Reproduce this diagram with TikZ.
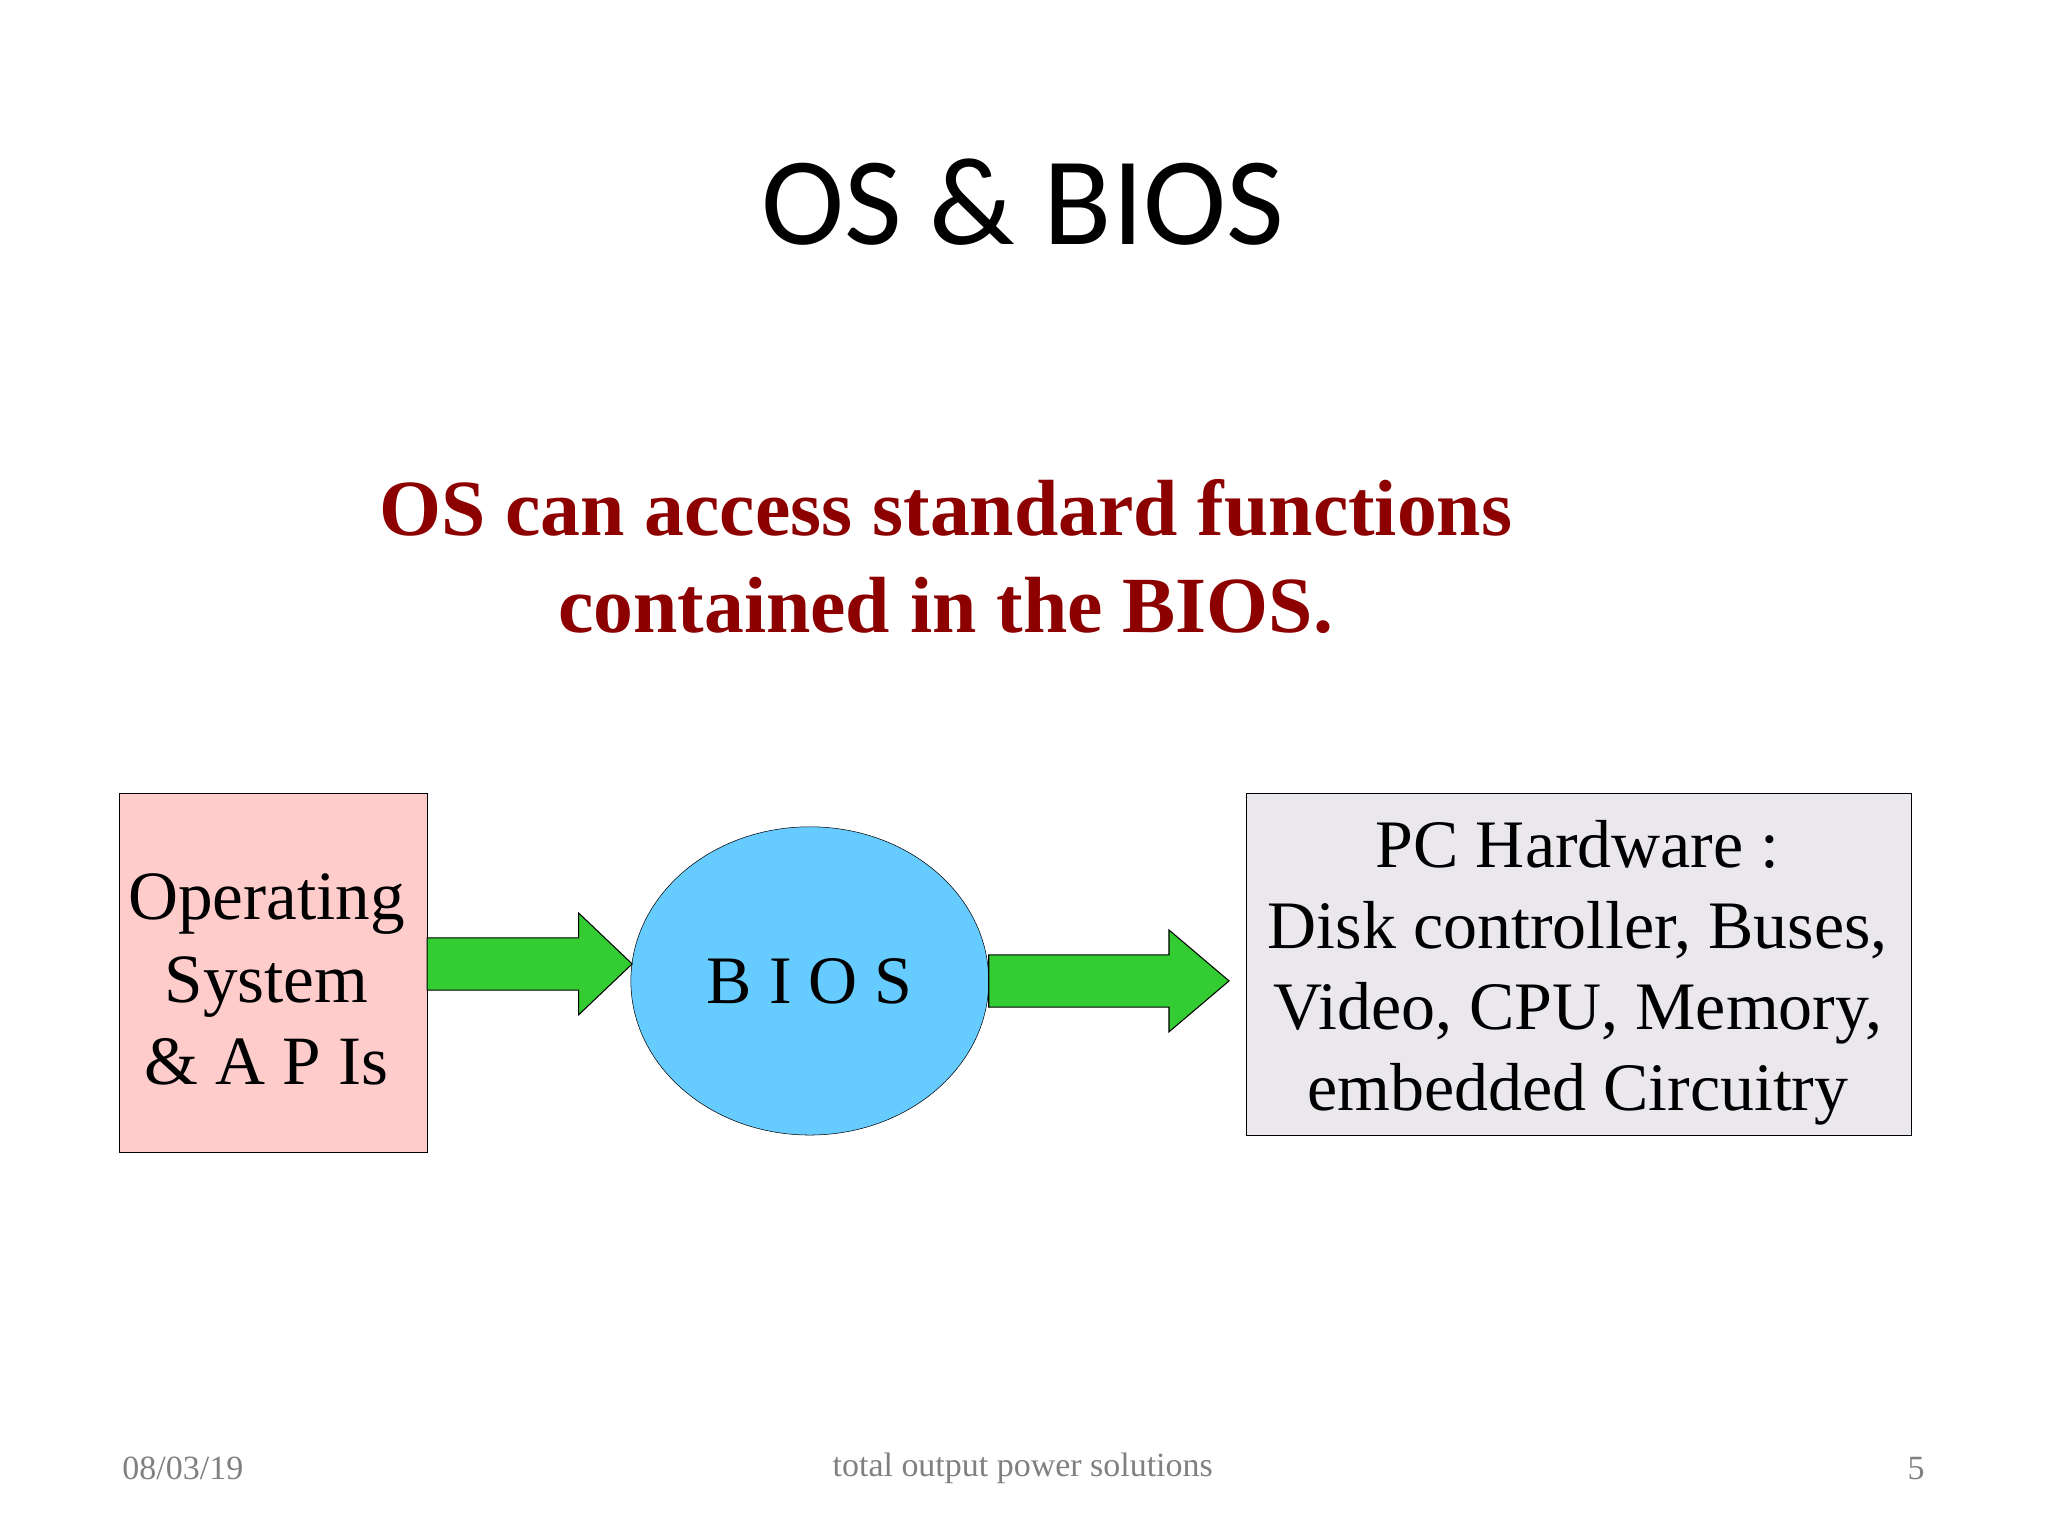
\documentclass[tikz,border=0pt]{standalone}
\usepackage{fontspec}
\setmainfont{Liberation Serif}
\newfontfamily\titlefont{Carlito}
\usetikzlibrary{shapes.geometric}
\definecolor{darkred}{rgb}{0.55,0,0}
\definecolor{pinkbox}{rgb}{1,0.8,0.8}
\definecolor{biosblue}{rgb}{0.4,0.8,1}
\definecolor{arrowgreen}{rgb}{0.2,0.8,0.2}
\definecolor{graybox}{rgb}{0.92,0.91,0.93}
\definecolor{foot}{rgb}{0.5,0.5,0.5}
\tikzset{footer/.style={text=foot,font=\fontsize{26}{30}\selectfont},
bigarrow/.style={fill=arrowgreen,draw=black,line width=0.8pt}}
\begin{document}
\begin{tikzpicture}[x=1pt,y=-1pt]
\useasboundingbox (0,0) rectangle (1568,1176);
\node (title) at (783,155) {\titlefont\fontsize{96}{100}\selectfont OS \& BIOS};
\node[text=darkred,font=\bfseries\fontsize{61}{74}\selectfont,align=center] (sub) at (724,426)
 {OS can access standard functions\\contained in the BIOS.};
\node[draw=black,fill=pinkbox,minimum width=236,minimum height=275,inner sep=0,
 font=\fontsize{53}{63}\selectfont,align=center] (os) at (209,744.5) {};
\node[font=\fontsize{53}{63}\selectfont,align=center] (ostext) at (204,750)
 {Operating\\System\\\& A P Is};
\node[draw=black,fill=biosblue,ellipse,minimum width=274,minimum height=236,inner sep=0,
 font=\fontsize{52}{60}\selectfont] (bios) at (620,751) {B I O S};
\node[draw=black,fill=graybox,minimum width=509,minimum height=262,inner sep=0] (hw) at (1208.5,738) {};
\node[font=\fontsize{52}{62}\selectfont,align=center] (hwtext) at (1208,745)
 {PC Hardware :\\Disk controller, Buses,\\Video, CPU, Memory,\\embedded Circuitry};
\draw[bigarrow] (327,718) -- (443,718) -- (443,699) -- (484,738) -- (443,777) -- (443,758) -- (327,758) -- cycle;
\draw[bigarrow] (757,731) -- (895,731) -- (895,712) -- (941,751) -- (895,790) -- (895,771) -- (757,771) -- cycle;
\node[footer] (date) at (140,1124) {08/03/19};
\node[footer] (org) at (783,1124) {total output power solutions};
\node[footer] (pg) at (1467,1124) {5};
\end{tikzpicture}
\end{document}
